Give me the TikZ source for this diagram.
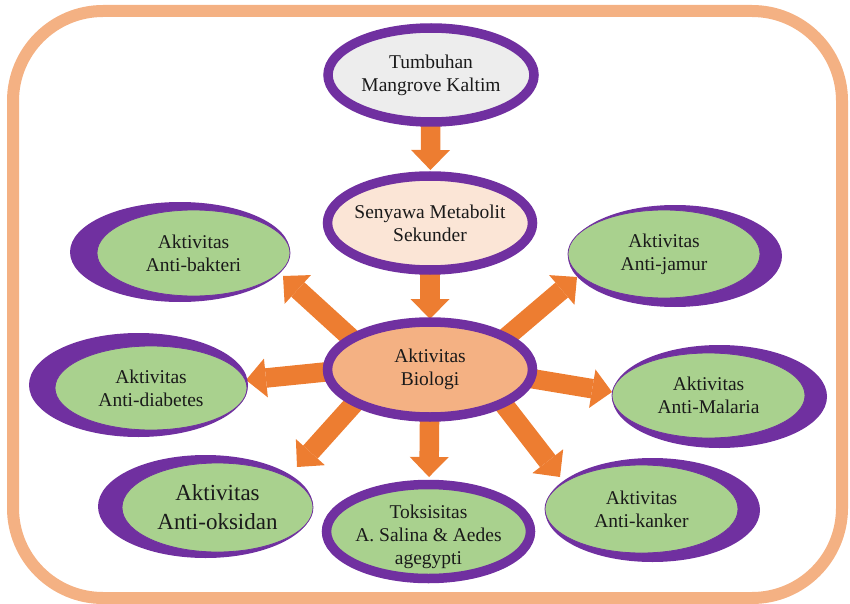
\documentclass[tikz,border=0pt]{standalone}
\usepackage{fontspec}
\setmainfont{Liberation Serif}
\usetikzlibrary{arrows.meta,calc,backgrounds,shapes.geometric}
\definecolor{bordc}{HTML}{F4B183}
\definecolor{purp}{HTML}{7030A0}
\definecolor{arrc}{HTML}{ED7D31}
\definecolor{grn}{HTML}{A9D18E}
\definecolor{gry}{HTML}{EDEDED}
\definecolor{pch}{HTML}{FBE5D6}
\definecolor{bioc}{HTML}{F4B183}
\definecolor{ink}{HTML}{1A1A1A}
\begin{document}
\begin{tikzpicture}[x=1pt,y=-1pt,
  txt/.style={font=\fontsize{19.5}{23.3}\selectfont, align=center, text=ink},
  bigtxt/.style={font=\fontsize{23}{29}\selectfont, align=center, text=ink},
  ring/.style={ellipse, draw=purp, line width=9.5pt, inner xsep=-25pt, inner ysep=-8pt, outer sep=0pt, txt},
  moon/.style={ellipse, fill=purp, inner sep=0pt, outer sep=0pt},
  leaf/.style={ellipse, fill=grn, draw=purp, line width=0.8pt, inner xsep=-25pt, inner ysep=-8pt, outer sep=0pt, txt},
  blockarrow/.style={draw=arrc, line width=19.5pt, -{Triangle[width=39pt,length=20pt,line width=0pt]}}
]
\useasboundingbox (0,0) rectangle (850,604);
\draw[bordc, line width=12pt, rounded corners=90pt] (13,11) rectangle (842,598);

% central chain
\node[ring, fill=gry, minimum width=206pt, minimum height=94pt] (tum) at (431,75) {Tumbuhan\\Mangrove Kaltim};
\node[ring, fill=pch, minimum width=205pt, minimum height=94pt] (sen) at (430,223) {Senyawa Metabolit\\Sekunder};
\node[ring, fill=bioc, minimum width=205pt, minimum height=95pt] (bio) at (430,369.5) {Aktivitas\\Biologi};
\node[ring, fill=grn, minimum width=204pt, minimum height=94pt] (tok) at (428.5,531.5) {\rule{0pt}{24pt}Toksisitas\\A. Salina \& Aedes\\agegypti};

% crescent nodes, left
\node[moon, minimum width=220pt, minimum height=100pt] (bak) at (180,252) {};
\node[leaf, minimum width=193pt, minimum height=86pt] (bakin) at (193.5,253) {Aktivitas\\Anti-bakteri};
\node[moon, minimum width=219pt, minimum height=104pt] (dia) at (138.5,385) {};
\node[leaf, minimum width=192pt, minimum height=84pt] (diain) at (151,388) {Aktivitas\\Anti-diabetes};
\node[moon, minimum width=215pt, minimum height=103pt] (oks) at (205.5,506.5) {};
\node[leaf, bigtxt, minimum width=191pt, minimum height=89pt] (oksin) at (217.5,507.5) {Aktivitas\\Anti-oksidan};

% crescent nodes, right
\node[moon, minimum width=214pt, minimum height=102pt] (jam) at (675,256) {};
\node[leaf, minimum width=192pt, minimum height=88pt] (jamin) at (664,254) {Aktivitas\\Anti-jamur};
\node[moon, minimum width=215pt, minimum height=103pt] (mal) at (719.5,396.5) {};
\node[leaf, minimum width=193pt, minimum height=85pt] (malin) at (708.5,395.5) {Aktivitas\\Anti-Malaria};
\node[moon, minimum width=215pt, minimum height=104pt] (kan) at (652.5,510) {};
\node[leaf, minimum width=193pt, minimum height=88pt] (kanin) at (641.5,509) {Aktivitas\\Anti-kanker};

% arrows
\begin{scope}[on background layer]
\draw[blockarrow, shorten >=6pt] (tum) -- (sen);
\draw[blockarrow, shorten >=3pt] (sen) -- (bio);
\draw[blockarrow, shorten >=7.5pt] (bio) -- (tok);
\draw[blockarrow] ($(bio.center)+(-73,-26)$) -- ($(bak.center)+(103,24)$);
\draw[blockarrow] ($(bio.center)+(-100,2)$) -- ($(dia.center)+(107.5,-5)$);
\draw[blockarrow] ($(bio.center)+(-66,23)$) -- ($(oks.center)+(91.5,-39.5)$);
\draw[blockarrow] ($(bio.center)+(63,-21)$) -- ($(jam.center)+(-98,21)$);
\draw[blockarrow] ($(bio.center)+(83,6)$) -- ($(mal.center)+(-107.5,-4.5)$);
\draw[blockarrow] ($(bio.center)+(63,21)$) -- ($(kan.center)+(-92.5,-33)$);
\end{scope}
\end{tikzpicture}
\end{document}
